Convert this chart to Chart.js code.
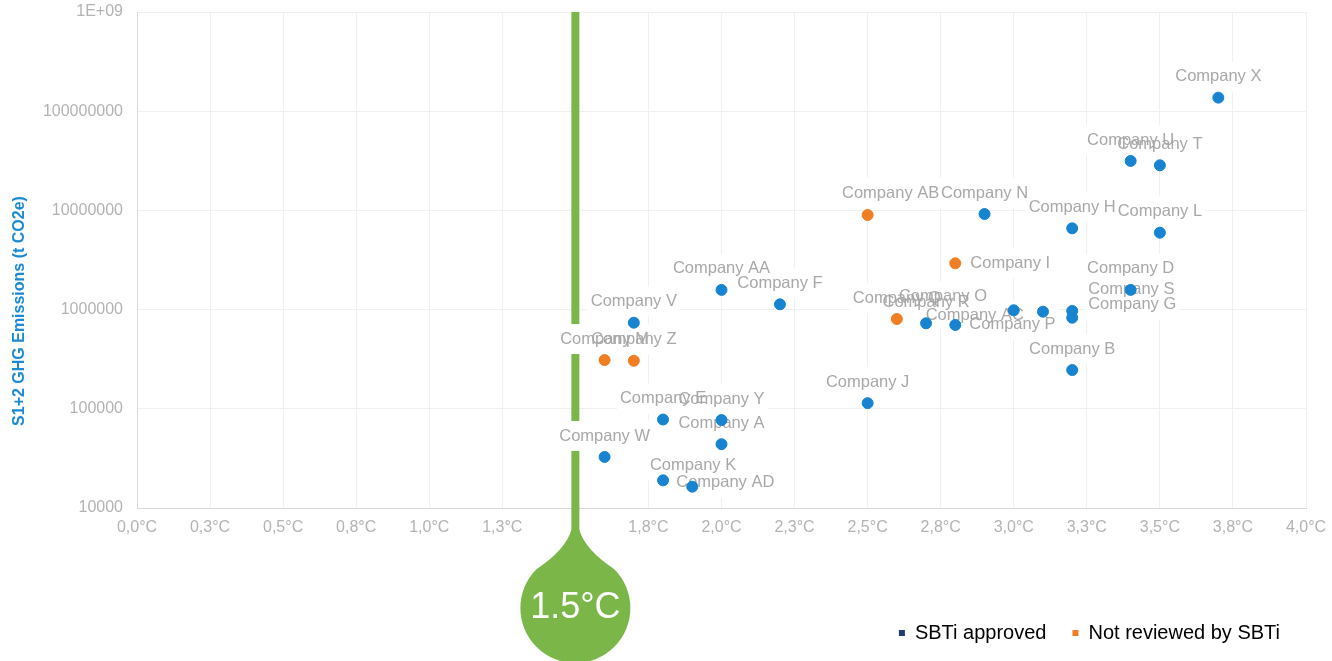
<!DOCTYPE html>
<html>
<head>
<meta charset="utf-8">
<script src="https://cdn.jsdelivr.net/npm/chart.js@4.4.0/dist/chart.umd.min.js"></script>
<style>
  html, body { margin: 0; padding: 0; background: #fff; }
  #wrap { width: 1332px; height: 661px; position: relative; }
</style>
</head>
<body>
<div id="wrap"><canvas id="chart"></canvas></div>
<script>
// SBTi approved companies
const approvedNames = ['Company V', 'Company AA', 'Company F', 'Company E', 'Company Y', 'Company A',
  'Company W', 'Company K', 'Company AD', 'Company J', 'Company R', 'Company P', 'Company AC',
  'Company O', 'Company S', 'Company G', 'Company D', 'Company B', 'Company N', 'Company H',
  'Company L', 'Company U', 'Company T', 'Company X'];
const approvedTemps = [1.7, 2.0, 2.2, 1.8, 2.0, 2.0, 1.6, 1.8, 1.9, 2.5, 2.7, 2.8, 3.0, 3.1, 3.2, 3.2,
  3.4, 3.2, 2.9, 3.2, 3.5, 3.4, 3.5, 3.7];
const approvedEmissions = [738000, 1580000, 1130000, 78000, 77000, 44000, 32700, 19000, 16400, 114000,
  728000, 700000, 985000, 953000, 970000, 828000, 1580000, 246000, 9200000, 6600000, 5960000,
  31500000, 28500000, 137000000];

// not reviewed by SBTi
const otherNames = ['Company M', 'Company Z', 'Company Q', 'Company AB', 'Company I'];
const otherTemps = [1.6, 1.7, 2.6, 2.5, 2.8];
const otherEmissions = [310000, 305000, 804000, 8990000, 2930000];

const seriesNames = ['SBTi approved', 'Not reviewed by SBTi'];

const xTickValues = [0, 0.25, 0.5, 0.75, 1, 1.25, 1.5, 1.75, 2, 2.25, 2.5, 2.75, 3, 3.25, 3.5, 3.75, 4];
const xTickLabels = ['0,0°C', '0,3°C', '0,5°C', '0,8°C', '1,0°C', '1,3°C', '', '1,8°C', '2,0°C',
  '2,3°C', '2,5°C', '2,8°C', '3,0°C', '3,3°C', '3,5°C', '3,8°C', '4,0°C'];
const yTickValues = [10000, 100000, 1000000, 10000000, 100000000, 1000000000];
const yTickLabels = ['10000', '100000', '1000000', '10000000', '100000000', '1E+09'];
const yTitle = 'S1+2 GHG Emissions (t CO2e)';

const targetTemp = 1.5;
const targetLabel = '1.5°C';

// labels that were dragged by hand in the original: [dx, dy, align]
const labelNudge = {
  'Company K': [30, -15, 'center'],
  'Company AD': [33, -4, 'center'],
  'Company P': [14, -1, 'left'],
  'Company AC': [-39, 5, 'center'],
  'Company O': [-100, -15, 'center'],
  'Company S': [16, -21, 'left'],
  'Company G': [16, -13, 'left'],
  'Company AB': [23, -22, 'center'],
  'Company I': [15, 0, 'left']
};

const BLUE = '#1684d0';
const ORANGE = '#f07e22';
const GREEN = '#7ab648';
const FONT = "'Liberation Sans', Arial, sans-serif";

function toPoints(xs, ys) {
  return xs.map((x, i) => ({ x: x, y: ys[i] }));
}

// green 1.5°C line + drop, and the point labels (drawn under the points)
const markerPlugin = {
  id: 'marker',
  beforeDatasetsDraw(chart) {
    const ctx = chart.ctx;
    const xs = chart.scales.x;
    const area = chart.chartArea;
    const cx = xs.getPixelForValue(targetTemp);

    ctx.save();
    ctx.fillStyle = GREEN;
    ctx.fillRect(cx - 4, area.top, 8, 534 - area.top);

    // drop: tangent lines from the tip to the circle
    const cy = 608, r = 55, tipY = 530;
    const phi = Math.acos(r / (cy - tipY));
    const lx = cx - r * Math.sin(phi), ly = cy - r * Math.cos(phi);
    const rx = cx + r * Math.sin(phi);
    ctx.beginPath();
    ctx.moveTo(cx - 4, tipY);
    ctx.quadraticCurveTo(cx - 10, tipY + 20, lx, ly);
    ctx.arc(cx, cy, r, -Math.PI / 2 - phi, -Math.PI / 2 + phi, true);
    ctx.quadraticCurveTo(cx + 10, tipY + 20, cx + 4, tipY);
    ctx.closePath();
    ctx.fill();

    ctx.fillStyle = '#fff';
    ctx.font = '36px ' + FONT;
    ctx.textAlign = 'center';
    ctx.textBaseline = 'middle';
    ctx.fillText(targetLabel, cx, cy);

    // point labels
    const names = [approvedNames, otherNames];
    const items = [];
    ctx.font = '16.5px ' + FONT;
    chart.data.datasets.forEach((ds, di) => {
      chart.getDatasetMeta(di).data.forEach((el, i) => {
        const name = names[di][i];
        const n = labelNudge[name] || [0, -21, 'center'];
        const w = ctx.measureText(name).width;
        const tx = el.x + n[0];
        const ty = el.y + n[1];
        const left = n[2] === 'left' ? tx : tx - w / 2;
        items.push({ name, tx, ty, align: n[2], left, w });
      });
    });
    ctx.fillStyle = '#fff';
    items.forEach(it => ctx.fillRect(it.left - 3, it.ty - 15, it.w + 6, 30));
    ctx.fillStyle = '#a8a8a8';
    ctx.textBaseline = 'middle';
    items.forEach(it => {
      ctx.textAlign = it.align;
      ctx.fillText(it.name, it.tx, it.ty);
    });

    // y axis title
    ctx.translate(20, 311);
    ctx.rotate(-Math.PI / 2);
    ctx.textAlign = 'center';
    ctx.fillStyle = '#1a8ad4';
    ctx.font = 'bold 16px ' + FONT;
    ctx.fillText(yTitle, 0, 0);
    ctx.restore();
  }
};

new Chart(document.getElementById('chart'), {
  type: 'scatter',
  data: {
    datasets: [
      {
        label: seriesNames[0],
        data: toPoints(approvedTemps, approvedEmissions),
        backgroundColor: BLUE,
        borderColor: BLUE,
        pointRadius: 5.5,
        pointHoverRadius: 5.5
      },
      {
        label: seriesNames[1],
        data: toPoints(otherTemps, otherEmissions),
        backgroundColor: ORANGE,
        borderColor: ORANGE,
        pointRadius: 5.5,
        pointHoverRadius: 5.5
      }
    ]
  },
  options: {
    responsive: true,
    maintainAspectRatio: false,
    animation: false,
    layout: { padding: { top: 12, right: 26, bottom: 8, left: 0 } },
    plugins: {
      tooltip: { enabled: false },
      legend: {
        position: 'bottom',
        align: 'end',
        labels: {
          boxWidth: 6,
          boxHeight: 6,
          padding: 26,
          color: '#666666',
          font: { family: FONT, size: 20 },
          generateLabels: () => [
            { text: seriesNames[0], fillStyle: '#1f3b70', strokeStyle: '#1f3b70', lineWidth: 0, datasetIndex: 0 },
            { text: seriesNames[1], fillStyle: ORANGE, strokeStyle: ORANGE, lineWidth: 0, datasetIndex: 1 }
          ]
        }
      }
    },
    scales: {
      x: {
        type: 'linear',
        min: 0,
        max: 4,
        afterBuildTicks: axis => { axis.ticks = xTickValues.map(v => ({ value: v })); },
        afterFit: axis => {
          axis.height = 89;
          axis.paddingLeft = 0;
          axis.paddingRight = 0;
        },
        ticks: {
          autoSkip: false,
          maxRotation: 0,
          padding: 10,
          color: '#b3b3b3',
          font: { family: FONT, size: 16 },
          callback: (v, i) => xTickLabels[i]
        },
        grid: { color: '#f0f0f0', drawTicks: false },
        border: { color: '#d9d9d9' }
      },
      y: {
        type: 'logarithmic',
        min: 10000,
        max: 1000000000,
        afterBuildTicks: axis => { axis.ticks = yTickValues.map(v => ({ value: v })); },
        afterFit: axis => {
          axis.width = 137;
          axis.paddingTop = 0;
          axis.paddingBottom = 0;
        },
        ticks: {
          autoSkip: false,
          padding: 14,
          color: '#b3b3b3',
          font: { family: FONT, size: 16 },
          callback: (v, i) => yTickLabels[i]
        },
        grid: { color: '#f0f0f0', drawTicks: false },
        border: { color: '#d9d9d9' }
      }
    }
  },
  plugins: [markerPlugin]
});
</script>
</body>
</html>
